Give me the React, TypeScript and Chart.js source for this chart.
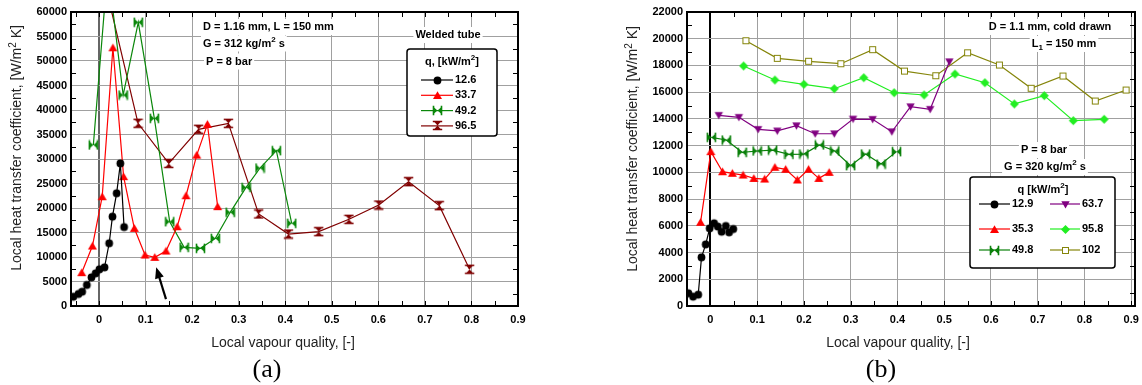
import React, { useEffect, useRef } from 'react';
import { Chart, registerables } from 'chart.js';
Chart.register(...registerables);

// ---------- Panel (a): welded tube, D = 1.16 mm ----------
const xTicks = [0, 0.1, 0.2, 0.3, 0.4, 0.5, 0.6, 0.7, 0.8, 0.9];

const a126X = [-0.055, -0.044, -0.036, -0.026, -0.016, -0.007, 0.001, 0.012, 0.022, 0.029, 0.038, 0.046, 0.054];
const a126Y = [1900, 2450, 2920, 4290, 5850, 6670, 7480, 7890, 12800, 18230, 23000, 29100, 16100];

const a337X = [-0.037, -0.014, 0.007, 0.030, 0.053, 0.076, 0.099, 0.120, 0.144, 0.168, 0.187, 0.210, 0.233, 0.255];
const a337Y = [6800, 12240, 22300, 52700, 26400, 15850, 10400, 9930, 11220, 16180, 22500, 30800, 37080, 20270];

const a492X = [-0.012, 0.019, 0.052, 0.0845, 0.119, 0.152, 0.183, 0.218, 0.250, 0.282, 0.316, 0.346, 0.381, 0.414];
const a492Y = [32860, 69000, 43060, 57900, 38300, 17200, 11970, 11770, 13800, 19120, 24200, 28160, 31700, 16870];

const a965X = [0.005, 0.084, 0.150, 0.214, 0.278, 0.343, 0.407, 0.472, 0.537, 0.601, 0.665, 0.731, 0.796];
const a965Y = [69000, 37290, 29100, 36060, 37280, 18780, 14690, 15170, 17690, 20600, 25370, 20480, 7490];

// ---------- Panel (b): cold drawn, D = 1.1 mm ----------
const b129X = [-0.047, -0.037, -0.026, -0.019, -0.010, -0.0015, 0.008, 0.016, 0.024, 0.033, 0.040, 0.049];
const b129Y = [950, 700, 850, 3640, 4610, 5810, 6190, 5940, 5560, 5990, 5510, 5760];

const b353X = [-0.021, 0.001, 0.026, 0.047, 0.070, 0.093, 0.116, 0.138, 0.161, 0.186, 0.210, 0.232, 0.254];
const b353Y = [6260, 11550, 10050, 9930, 9800, 9550, 9500, 10380, 10230, 9430, 10230, 9550, 10000];

const b498X = [0.002, 0.034, 0.068, 0.100, 0.133, 0.168, 0.200, 0.233, 0.266, 0.300, 0.332, 0.365, 0.398];
const b498Y = [12620, 12420, 11500, 11600, 11670, 11350, 11370, 12050, 11600, 10500, 11370, 10620, 11550];

const b637X = [0.018, 0.061, 0.102, 0.143, 0.184, 0.224, 0.265, 0.305, 0.347, 0.388, 0.428, 0.470, 0.511];
const b637Y = [14270, 14120, 13220, 13100, 13490, 12890, 12890, 13990, 13970, 13040, 14910, 14720, 18280];

const b958X = [0.071, 0.138, 0.200, 0.265, 0.328, 0.393, 0.457, 0.523, 0.587, 0.650, 0.714, 0.776, 0.842];
const b958Y = [17960, 16910, 16590, 16260, 17080, 15960, 15790, 17360, 16710, 15120, 15740, 13870, 13970];

const b102X = [0.076, 0.143, 0.210, 0.279, 0.347, 0.415, 0.482, 0.550, 0.618, 0.686, 0.754, 0.823, 0.889];
const b102Y = [19850, 18530, 18310, 18130, 19180, 17580, 17230, 18950, 18030, 16290, 17210, 15340, 16160];

const FONT = '"Liberation Sans", Arial, Helvetica, sans-serif';
const SERIF = '"Liberation Serif", "Times New Roman", serif';

type Seg = { t: string; sup?: boolean; sub?: boolean };

function marker(kind: string, color: string): HTMLCanvasElement {
  const c = document.createElement('canvas');
  c.width = 11;
  c.height = 11;
  const g = c.getContext('2d')!;
  g.fillStyle = color;
  g.strokeStyle = color;
  g.lineWidth = 1;
  const m = 5.5;
  g.beginPath();
  switch (kind) {
    case 'circle':
      g.arc(m, m, 3.9, 0, Math.PI * 2);
      g.fill();
      break;
    case 'tri':
      g.moveTo(m, 1.2);
      g.lineTo(m + 4.5, 9);
      g.lineTo(m - 4.5, 9);
      g.closePath();
      g.fill();
      break;
    case 'invtri':
      g.moveTo(m - 4.2, 2.2);
      g.lineTo(m + 4.2, 2.2);
      g.lineTo(m, 9.4);
      g.closePath();
      g.fill();
      break;
    case 'bowtie':
      g.moveTo(1.5, 2);
      g.lineTo(1.5, 9);
      g.lineTo(m, m);
      g.closePath();
      g.moveTo(9.5, 2);
      g.lineTo(9.5, 9);
      g.lineTo(m, m);
      g.closePath();
      g.fill();
      g.lineWidth = 1.6;
      g.beginPath();
      g.moveTo(1.5, 0.8);
      g.lineTo(1.5, 10.2);
      g.moveTo(9.5, 0.8);
      g.lineTo(9.5, 10.2);
      g.stroke();
      break;
    case 'hourglass':
      g.moveTo(2, 1.5);
      g.lineTo(9, 1.5);
      g.lineTo(m, m);
      g.closePath();
      g.moveTo(2, 9.5);
      g.lineTo(9, 9.5);
      g.lineTo(m, m);
      g.closePath();
      g.fill();
      g.lineWidth = 1.6;
      g.beginPath();
      g.moveTo(0.8, 1.5);
      g.lineTo(10.2, 1.5);
      g.moveTo(0.8, 9.5);
      g.lineTo(10.2, 9.5);
      g.stroke();
      break;
    case 'diamond':
      g.moveTo(m, 1);
      g.lineTo(m + 4.5, m);
      g.lineTo(m, 10);
      g.lineTo(m - 4.5, m);
      g.closePath();
      g.fill();
      break;
    case 'opensq':
      g.fillStyle = '#fff';
      g.fillRect(2.5, 2.5, 6, 6);
      g.strokeRect(2.5, 2.5, 6, 6);
      break;
  }
  return c;
}

function drawSegs(
  ctx: CanvasRenderingContext2D,
  segs: Seg[],
  x: number,
  y: number,
  size: number,
  bold: boolean,
  align: 'left' | 'center',
  bg = false,
  color = '#000'
) {
  const base = `${bold ? 'bold ' : ''}${size}px ${FONT}`;
  const small = `${bold ? 'bold ' : ''}${Math.round(size * 0.72)}px ${FONT}`;
  let w = 0;
  for (const s of segs) {
    ctx.font = s.sup || s.sub ? small : base;
    w += ctx.measureText(s.t).width;
  }
  let x0 = align === 'center' ? x - w / 2 : x;
  if (bg) {
    ctx.fillStyle = '#fff';
    ctx.fillRect(x0 - 2, y - 8, w + 4, 16);
  }
  ctx.fillStyle = color;
  ctx.textBaseline = 'middle';
  ctx.textAlign = 'left';
  for (const s of segs) {
    ctx.font = s.sup || s.sub ? small : base;
    const dy = s.sup ? -4 : s.sub ? 3.5 : 0;
    ctx.fillText(s.t, x0, y + dy);
    x0 += ctx.measureText(s.t).width;
  }
}

type Series = { x: number[]; y: number[]; color: string; kind: string; label: string };
type LegendRow = { x1: number; x2: number; y: number; s: Series };
type Note = { segs: Seg[]; x: number; y: number; align: 'left' | 'center' };

type PanelCfg = {
  id: string;
  left: number;
  width: number;
  padRight: number;
  yAxisWidth: number;
  xMin: number;
  xMax: number;
  yMax: number;
  yStep: number;
  yMinor: number;
  zeroColor: string;
  series: Series[];
  notes: Note[];
  legendBox: [number, number, number, number];
  legendTitle: { segs: Seg[]; x: number; y: number };
  legendRows: LegendRow[];
  yTitle: [number, number];
  xTitle: [number, number];
  caption: { t: string; x: number; y: number };
  arrow?: { from: [number, number]; to: [number, number] };
};

const sA: Series[] = [
  { x: a126X, y: a126Y, color: '#000000', kind: 'circle', label: '12.6' },
  { x: a337X, y: a337Y, color: '#ff0000', kind: 'tri', label: '33.7' },
  { x: a492X, y: a492Y, color: '#0a870a', kind: 'bowtie', label: '49.2' },
  { x: a965X, y: a965Y, color: '#800000', kind: 'hourglass', label: '96.5' },
];

const sB: Series[] = [
  { x: b129X, y: b129Y, color: '#000000', kind: 'circle', label: '12.9' },
  { x: b353X, y: b353Y, color: '#ff0000', kind: 'tri', label: '35.3' },
  { x: b498X, y: b498Y, color: '#0a800a', kind: 'bowtie', label: '49.8' },
  { x: b637X, y: b637Y, color: '#800080', kind: 'invtri', label: '63.7' },
  { x: b958X, y: b958Y, color: '#22ee22', kind: 'diamond', label: '95.8' },
  { x: b102X, y: b102Y, color: '#85850a', kind: 'opensq', label: '102' },
];

const yTitleSegs: Seg[] = [
  { t: 'Local heat transfer coefficient, [W/m' },
  { t: '2', sup: true },
  { t: ' K]' },
];

const panelA: PanelCfg = {
  id: 'a',
  left: 0,
  width: 571,
  padRight: 53,
  yAxisWidth: 71,
  xMin: -0.06,
  xMax: 0.9,
  yMax: 60000,
  yStep: 5000,
  yMinor: 2500,
  zeroColor: '#666666',
  series: sA,
  notes: [
    { segs: [{ t: 'D = 1.16 mm, L = 150 mm' }], x: 203, y: 27, align: 'left' },
    { segs: [{ t: 'G = 312 kg/m' }, { t: '2', sup: true }, { t: ' s' }], x: 203, y: 43.5, align: 'left' },
    { segs: [{ t: 'P = 8 bar' }], x: 206, y: 61.5, align: 'left' },
    { segs: [{ t: 'Welded tube' }], x: 448, y: 35, align: 'center' },
  ],
  legendBox: [407, 49, 90, 87],
  legendTitle: { segs: [{ t: 'q, [kW/m' }, { t: '2', sup: true }, { t: ']' }], x: 452, y: 62 },
  legendRows: sA.map((s, i) => ({ x1: 421, x2: 453, y: 80 + i * 15.3, s })),
  yTitle: [17, 148],
  xTitle: [283, 343],
  caption: { t: '(a)', x: 267, y: 370 },
  arrow: { from: [0.144, 1400], to: [0.123, 7900] },
};

const panelB: PanelCfg = {
  id: 'b',
  left: 571,
  width: 571,
  padRight: 7,
  yAxisWidth: 116,
  xMin: -0.05,
  xMax: 0.908,
  yMax: 22000,
  yStep: 2000,
  yMinor: 1000,
  zeroColor: '#000000',
  series: sB,
  notes: [
    { segs: [{ t: 'D = 1.1 mm, cold drawn' }], x: 1050, y: 27, align: 'center' },
    { segs: [{ t: 'L' }, { t: '1', sub: true }, { t: ' = 150 mm' }], x: 1064, y: 44, align: 'center' },
    { segs: [{ t: 'P = 8 bar' }], x: 1044, y: 150, align: 'center' },
    { segs: [{ t: 'G = 320 kg/m' }, { t: '2', sup: true }, { t: ' s' }], x: 1045, y: 167, align: 'center' },
  ],
  legendBox: [970, 177, 145, 91],
  legendTitle: { segs: [{ t: 'q [kW/m' }, { t: '2', sup: true }, { t: ']' }], x: 1043, y: 190 },
  legendRows: [
    { x1: 979, x2: 1010, y: 204, s: sB[0] },
    { x1: 979, x2: 1010, y: 229, s: sB[1] },
    { x1: 979, x2: 1010, y: 250, s: sB[2] },
    { x1: 1050, x2: 1080, y: 204, s: sB[3] },
    { x1: 1050, x2: 1080, y: 229, s: sB[4] },
    { x1: 1050, x2: 1080, y: 250, s: sB[5] },
  ],
  yTitle: [633, 149],
  xTitle: [898, 343],
  caption: { t: '(b)', x: 881, y: 370 },
};

function overlay(cfg: PanelCfg, markers: HTMLCanvasElement[]) {
  return {
    id: 'overlay_' + cfg.id,
    afterDraw(chart: any) {
      const ctx: CanvasRenderingContext2D = chart.ctx;
      const ca = chart.chartArea;
      const xs = chart.scales.x;
      const ys = chart.scales.y;
      ctx.save();

      // arrow (data coordinates)
      if (cfg.arrow) {
        const x1 = xs.getPixelForValue(cfg.arrow.from[0]);
        const y1 = ys.getPixelForValue(cfg.arrow.from[1]);
        const x2 = xs.getPixelForValue(cfg.arrow.to[0]);
        const y2 = ys.getPixelForValue(cfg.arrow.to[1]);
        const ang = Math.atan2(y2 - y1, x2 - x1);
        const L = 11;
        const W = 4.5;
        ctx.strokeStyle = '#000';
        ctx.fillStyle = '#000';
        ctx.lineWidth = 2.2;
        ctx.beginPath();
        ctx.moveTo(x1, y1);
        ctx.lineTo(x2 - Math.cos(ang) * L * 0.8, y2 - Math.sin(ang) * L * 0.8);
        ctx.stroke();
        ctx.beginPath();
        ctx.moveTo(x2, y2);
        ctx.lineTo(x2 - Math.cos(ang) * L - Math.sin(ang) * W, y2 - Math.sin(ang) * L + Math.cos(ang) * W);
        ctx.lineTo(x2 - Math.cos(ang) * L + Math.sin(ang) * W, y2 - Math.sin(ang) * L - Math.cos(ang) * W);
        ctx.closePath();
        ctx.fill();
      }

      // frame
      ctx.strokeStyle = '#000';
      ctx.lineWidth = 2;
      ctx.strokeRect(ca.left, ca.top, ca.right - ca.left, ca.bottom - ca.top);

      // minor ticks
      ctx.lineWidth = 1;
      ctx.beginPath();
      for (let v = -0.05; v <= cfg.xMax + 1e-9; v += 0.05) {
        if (v < cfg.xMin) continue;
        const px = Math.round(xs.getPixelForValue(v)) + 0.5;
        ctx.moveTo(px, ca.bottom);
        ctx.lineTo(px, ca.bottom - 5);
        ctx.moveTo(px, ca.top);
        ctx.lineTo(px, ca.top + 5);
      }
      for (let v = cfg.yMinor; v < cfg.yMax; v += cfg.yMinor * 2) {
        const py = Math.round(ys.getPixelForValue(v)) + 0.5;
        ctx.moveTo(ca.left, py);
        ctx.lineTo(ca.left + 5, py);
        ctx.moveTo(ca.right, py);
        ctx.lineTo(ca.right - 5, py);
      }
      ctx.stroke();

      // page-coordinate drawings
      ctx.translate(-cfg.left, 0);

      for (const n of cfg.notes) drawSegs(ctx, n.segs, n.x, n.y, 11, true, n.align, true);

      // legend
      const [bx, by, bw, bh] = cfg.legendBox;
      ctx.fillStyle = '#fff';
      ctx.strokeStyle = '#000';
      ctx.lineWidth = 1.5;
      ctx.beginPath();
      (ctx as any).roundRect(bx, by, bw, bh, 3);
      ctx.fill();
      ctx.stroke();
      drawSegs(ctx, cfg.legendTitle.segs, cfg.legendTitle.x, cfg.legendTitle.y, 11, true, 'center');
      for (const r of cfg.legendRows) {
        ctx.strokeStyle = r.s.color;
        ctx.lineWidth = 1.2;
        ctx.beginPath();
        ctx.moveTo(r.x1, r.y);
        ctx.lineTo(r.x2, r.y);
        ctx.stroke();
        const mk = markers[cfg.series.indexOf(r.s)];
        ctx.drawImage(mk, Math.round((r.x1 + r.x2) / 2 - mk.width / 2), Math.round(r.y - mk.height / 2));
        drawSegs(ctx, [{ t: r.s.label }], r.x2 + 2, r.y, 11, true, 'left');
      }

      // axis titles
      ctx.save();
      ctx.translate(cfg.yTitle[0], cfg.yTitle[1]);
      ctx.rotate(-Math.PI / 2);
      drawSegs(ctx, yTitleSegs, 0, 0, 14, false, 'center', false, '#222');
      ctx.restore();
      drawSegs(ctx, [{ t: 'Local vapour quality, [-]' }], cfg.xTitle[0], cfg.xTitle[1], 14, false, 'center', false, '#222');

      // caption
      ctx.font = `26px ${SERIF}`;
      ctx.fillStyle = '#000';
      ctx.textAlign = 'center';
      ctx.textBaseline = 'middle';
      ctx.fillText(cfg.caption.t, cfg.caption.x, cfg.caption.y);

      ctx.restore();
    },
  };
}

function buildConfig(cfg: PanelCfg): any {
  const markers = cfg.series.map((s) => marker(s.kind, s.color));
  const tickFont = { family: FONT, size: 11, weight: 'bold' };
  return {
    type: 'scatter',
    data: {
      datasets: cfg.series.map((s, i) => ({
        label: s.label,
        data: s.x.map((x, j) => ({ x, y: s.y[j] })),
        showLine: true,
        borderColor: s.color,
        backgroundColor: s.color,
        borderWidth: 1.2,
        pointStyle: markers[i],
        pointRadius: 4,
        pointHoverRadius: 4,
      })),
    },
    options: {
      responsive: false,
      animation: false,
      devicePixelRatio: 1,
      events: [],
      layout: { padding: { left: 0, right: cfg.padRight, top: 12, bottom: 0 } },
      plugins: { legend: { display: false }, tooltip: { enabled: false } },
      scales: {
        x: {
          type: 'linear',
          min: cfg.xMin,
          max: cfg.xMax,
          border: { display: false },
          grid: {
            drawTicks: false,
            color: (c: any) => (c.tick && Math.abs(c.tick.value) < 1e-9 ? cfg.zeroColor : '#a0a0a0'),
            lineWidth: (c: any) => (c.tick && Math.abs(c.tick.value) < 1e-9 ? 2 : 1),
          },
          ticks: {
            font: tickFont,
            color: '#000',
            padding: 7,
            maxRotation: 0,
            autoSkip: false,
            callback: (v: number) => (Math.abs(v) < 1e-9 ? '0' : v.toFixed(1)),
          },
          afterBuildTicks: (s: any) => {
            s.ticks = xTicks.map((v) => ({ value: v }));
          },
          afterFit: (s: any) => {
            s.height = 79;
            s.paddingLeft = 0;
            s.paddingRight = 0;
          },
        },
        y: {
          type: 'linear',
          min: 0,
          max: cfg.yMax,
          border: { display: false },
          grid: { drawTicks: false, color: '#a0a0a0', lineWidth: 1 },
          ticks: {
            font: tickFont,
            color: '#000',
            padding: 4,
            stepSize: cfg.yStep,
            autoSkip: false,
            callback: (v: number) => String(v),
          },
          afterFit: (s: any) => {
            s.width = cfg.yAxisWidth;
            s.paddingTop = 0;
            s.paddingBottom = 0;
          },
        },
      },
    },
    plugins: [overlay(cfg, markers)],
  };
}

function Panel({ cfg }: { cfg: PanelCfg }) {
  const ref = useRef<HTMLCanvasElement>(null);
  useEffect(() => {
    const chart = new Chart(ref.current!, buildConfig(cfg));
    return () => chart.destroy();
  }, [cfg]);
  return (
    <canvas
      ref={ref}
      width={cfg.width}
      height={385}
      style={{ position: 'absolute', left: cfg.left, top: 0, width: cfg.width, height: 385 }}
    />
  );
}

export default function App() {
  return (
    <div style={{ position: 'fixed', left: 0, top: 0, width: 1142, height: 385, background: '#fff', overflow: 'hidden' }}>
      <Panel cfg={panelA} />
      <Panel cfg={panelB} />
    </div>
  );
}
